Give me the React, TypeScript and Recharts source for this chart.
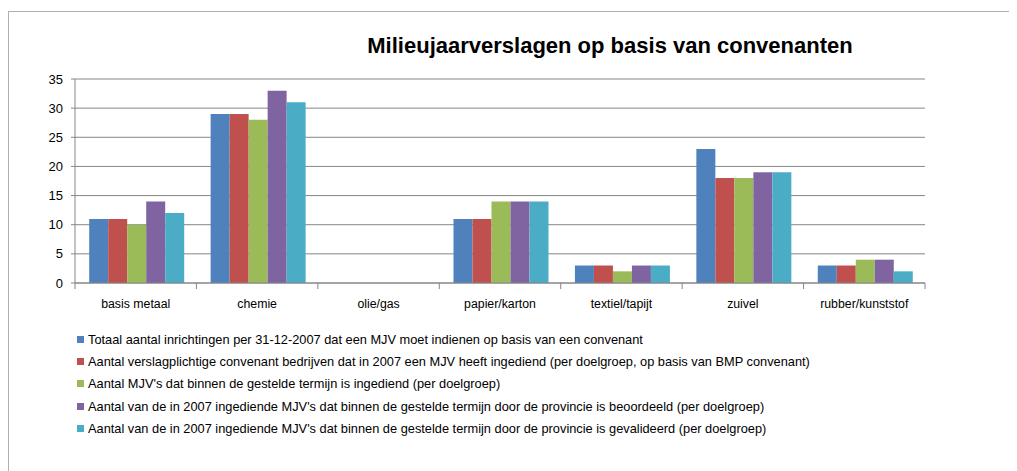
import React from 'react';
import { BarChart, Bar, XAxis, YAxis, CartesianGrid } from 'recharts';

const categories = ['basis metaal', 'chemie', 'olie/gas', 'papier/karton', 'textiel/tapijt', 'zuivel', 'rubber/kunststof'];

const seriesNames = [
  'Totaal aantal inrichtingen per 31-12-2007 dat een MJV moet indienen op basis van een convenant',
  'Aantal verslagplichtige convenant bedrijven dat in 2007 een MJV heeft ingediend (per doelgroep, op basis van BMP convenant)',
  "Aantal MJV's dat binnen de gestelde termijn is ingediend (per doelgroep)",
  "Aantal van de in 2007 ingediende MJV's dat binnen de gestelde termijn door de provincie is beoordeeld (per doelgroep)",
  "Aantal van de in 2007 ingediende MJV's dat binnen de gestelde termijn door de provincie is gevalideerd (per doelgroep)",
];

const totaal = [11, 29, 0, 11, 3, 23, 3];
const verslagplichtig = [11, 29, 0, 11, 3, 18, 3];
const binnenTermijn = [10, 28, 0, 14, 2, 18, 4];
const beoordeeld = [14, 33, 0, 14, 3, 19, 4];
const gevalideerd = [12, 31, 0, 14, 3, 19, 2];

const yTicks = [0, 5, 10, 15, 20, 25, 30, 35];

const colors = ['#4F81BD', '#C0504D', '#9BBB59', '#8064A2', '#4BACC6'];
const keys = ['s0', 's1', 's2', 's3', 's4'];
const seriesValues = [totaal, verslagplichtig, binnenTermijn, beoordeeld, gevalideerd];

const data = categories.map((c, i) => {
  const row: any = { name: c };
  seriesValues.forEach((vals, s) => {
    row[keys[s]] = vals[i];
  });
  return row;
});

const FONT = '"Liberation Sans", Arial, sans-serif';

const XTick = (props: any) => {
  const { x, y, payload, index, visibleTicksCount } = props;
  const half = payload && typeof payload.offset === 'number' && payload.offset > 0 ? payload.offset : 60.7;
  const last = index === (visibleTicksCount ?? categories.length) - 1;
  return (
    <g>
      <line x1={x - half} x2={x - half} y1={y} y2={y + 6} stroke="#868686" strokeWidth={1} />
      {last && <line x1={x + half} x2={x + half} y1={y} y2={y + 6} stroke="#868686" strokeWidth={1} />}
      <text x={x} y={y + 25} textAnchor="middle" fontSize={12.3} fontFamily={FONT} fill="#000">
        {payload.value}
      </text>
    </g>
  );
};

export default function App() {
  return (
    <div style={{ position: 'relative', width: 1009, height: 463, fontFamily: FONT }}>
      <div
        style={{
          position: 'absolute',
          left: 0,
          top: 3,
          width: 1009,
          height: 460,
          borderTop: '1.5px solid #b0b0b0',
          borderLeft: '1.5px solid #b0b0b0',
        }}
      />
      <div
        style={{
          position: 'absolute',
          left: 0,
          width: 1204,
          top: 25,
          textAlign: 'center',
          fontSize: 22,
          fontWeight: 'bold',
          color: '#000',
          whiteSpace: 'nowrap',
        }}
      >
        Milieujaarverslagen op basis van convenanten
      </div>
      <div style={{ position: 'absolute', left: 0, top: 0 }}>
        <BarChart
          width={1009}
          height={310}
          data={data}
          margin={{ top: 71, right: 92, left: 0, bottom: 5 }}
          barCategoryGap="11.7%"
          barGap={0}
        >
          <CartesianGrid vertical={false} stroke="#868686" strokeWidth={1} />
          <XAxis
            dataKey="name"
            height={30}
            tickLine={false}
            tickSize={0}
            tickMargin={0}
            axisLine={{ stroke: '#868686' }}
            tick={<XTick />}
            interval={0}
          />
          <YAxis
            width={67}
            domain={[0, 35]}
            ticks={yTicks}
            interval={0}
            tickSize={4}
            tickMargin={8}
            axisLine={{ stroke: '#868686' }}
            tickLine={{ stroke: '#868686' }}
            tick={{ fontSize: 13, fill: '#000', fontFamily: FONT }}
          />
          {keys.map((k, s) => (
            <Bar key={k} dataKey={k} name={seriesNames[s]} fill={colors[s]} isAnimationActive={false} />
          ))}
        </BarChart>
      </div>
      <div style={{ position: 'absolute', left: 69, top: 320 }}>
        {seriesNames.map((n, s) => (
          <div key={n} style={{ display: 'flex', alignItems: 'center', height: 22.3, fontSize: 12.8, color: '#000', whiteSpace: 'nowrap' }}>
            <span style={{ display: 'inline-block', width: 7, height: 7, background: colors[s], marginRight: 4 }} />
            <span>{n}</span>
          </div>
        ))}
      </div>
    </div>
  );
}
